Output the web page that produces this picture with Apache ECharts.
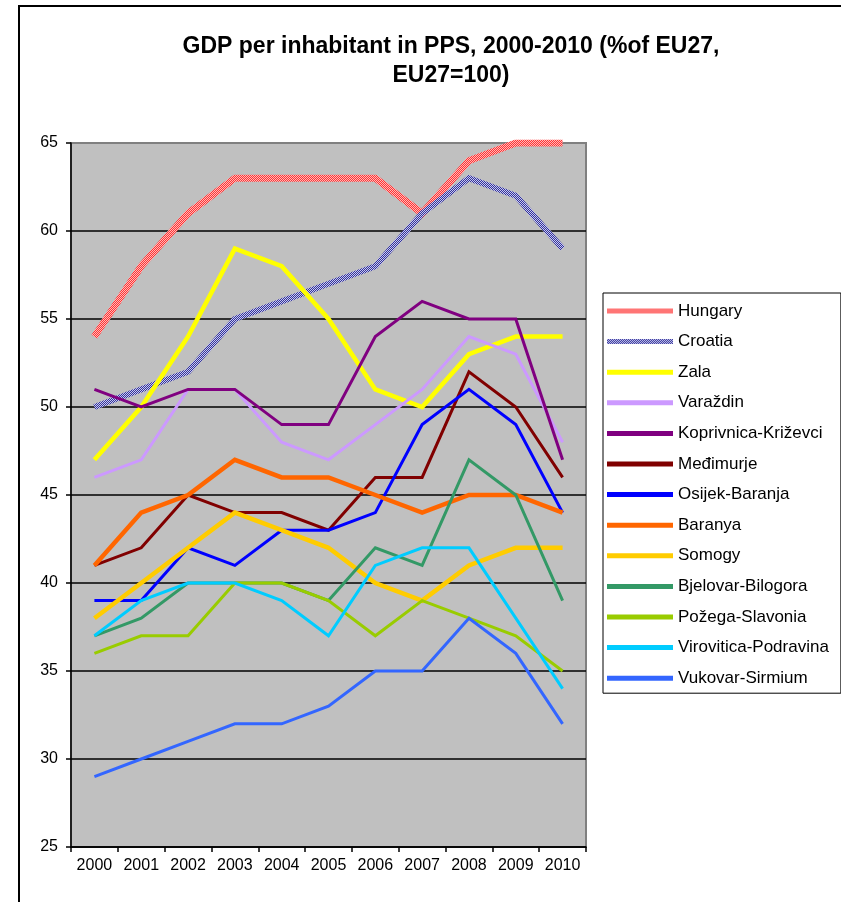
<!DOCTYPE html>
<html>
<head>
<meta charset="utf-8">
<script src="https://cdn.jsdelivr.net/npm/echarts@6/dist/echarts.min.js"></script>
<style>html,body{margin:0;padding:0;background:#fff}#c{width:841px;height:902px}</style>
</head>
<body>
<div id="c"></div>
<script>
var years = ['2000','2001','2002','2003','2004','2005','2006','2007','2008','2009','2010'];
var hungary    = [54, 58, 61, 63, 63, 63, 63, 61, 64, 65, 65];
var croatia    = [50, 51, 52, 55, 56, 57, 58, 61, 63, 62, 59];
var zala       = [47, 50, 54, 59, 58, 55, 51, 50, 53, 54, 54];
var varazdin   = [46, 47, 51, 51, 48, 47, 49, 51, 54, 53, 48];
var koprivnica = [51, 50, 51, 51, 49, 49, 54, 56, 55, 55, 47];
var medimurje  = [41, 42, 45, 44, 44, 43, 46, 46, 52, 50, 46];
var osijek     = [39, 39, 42, 41, 43, 43, 44, 49, 51, 49, 44];
var baranya    = [41, 44, 45, 47, 46, 46, 45, 44, 45, 45, 44];
var somogy     = [38, 40, 42, 44, 43, 42, 40, 39, 41, 42, 42];
var bjelovar   = [37, 38, 40, 40, 40, 39, 42, 41, 47, 45, 39];
var pozega     = [36, 37, 37, 40, 40, 39, 37, 39, 38, 37, 35];
var virovitica = [37, 39, 40, 40, 39, 37, 41, 42, 42, 38, 34];
var vukovar    = [29, 30, 31, 32, 32, 33, 35, 35, 38, 36, 32];
var yTicks = [25, 30, 35, 40, 45, 50, 55, 60, 65];

function pattern(a, b) {
  var cv = document.createElement('canvas');
  cv.width = 2; cv.height = 2;
  var ctx = cv.getContext('2d');
  ctx.fillStyle = a; ctx.fillRect(0, 0, 2, 2);
  ctx.fillStyle = b; ctx.fillRect(0, 0, 1, 1); ctx.fillRect(1, 1, 1, 1);
  return { image: cv, repeat: 'repeat' };
}
var hunPat = pattern('#FF3333', '#FFB8B8');
var croPat = pattern('#333399', '#C8C8F0');

var defs = [
  ['Hungary', hungary, hunPat, 7],
  ['Croatia', croatia, croPat, 6],
  ['Zala', zala, '#FFFF00', 4.5],
  ['Varaždin', varazdin, '#CC99FF', 3],
  ['Koprivnica-Križevci', koprivnica, '#800080', 3],
  ['Međimurje', medimurje, '#800000', 3],
  ['Osijek-Baranja', osijek, '#0000FF', 3],
  ['Baranya', baranya, '#FF6600', 4.5],
  ['Somogy', somogy, '#FFCC00', 4.5],
  ['Bjelovar-Bilogora', bjelovar, '#339966', 3],
  ['Požega-Slavonia', pozega, '#99CC00', 3],
  ['Virovitica-Podravina', virovitica, '#00CCFF', 3],
  ['Vukovar-Sirmium', vukovar, '#3366FF', 3]
];

var font = 'Liberation Sans, Arial, sans-serif';
var series = defs.map(function (d) {
  return {
    name: d[0], type: 'line', data: d[1],
    symbol: 'none', animation: false,
    lineStyle: { color: d[2], width: d[3], join: 'miter' },
    itemStyle: { color: d[2] }
  };
});

var splitColors = yTicks.map(function (v) { return v === 65 ? '#808080' : '#000000'; });

var chart = echarts.init(document.getElementById('c'), null, { renderer: 'canvas' });
chart.setOption({
  backgroundColor: '#ffffff',
  animation: false,
  title: {
    text: 'GDP per inhabitant in PPS, 2000-2010 (%of EU27,\nEU27=100)',
    left: 446, top: 27, textAlign: 'center',
    textStyle: { fontFamily: font, fontSize: 23, fontWeight: 'bold', color: '#000', lineHeight: 29 }
  },
  graphic: [{
    type: 'rect', shape: { x: 19, y: 6, width: 900, height: 1000 },
    style: { fill: 'none', stroke: '#000', lineWidth: 2 }, silent: true, z: 100
  }],
  legend: {
    orient: 'vertical', left: 603, top: 293,
    backgroundColor: '#fff', borderColor: '#000', borderWidth: 1,
    padding: [9, 12, 6, 4],
    itemWidth: 66, itemHeight: 5, itemGap: 12.6,
    icon: 'rect',
    textStyle: { fontFamily: font, fontSize: 17, color: '#000', lineHeight: 18 },
    data: defs.map(function (d) { return d[0]; })
  },
  grid: {
    left: 71, top: 143, right: 255, bottom: 55,
    show: true, backgroundColor: '#C0C0C0', borderColor: '#808080', borderWidth: 2
  },
  xAxis: {
    type: 'category', data: years, boundaryGap: true,
    axisLine: { lineStyle: { color: '#000', width: 1.5 } },
    axisTick: { show: true, length: 5, inside: false, lineStyle: { color: '#000', width: 1.5 } },
    axisLabel: { fontFamily: font, fontSize: 16, color: '#000', margin: 11 }
  },
  yAxis: {
    type: 'value', min: 25, max: 65, interval: 5,
    axisLine: { show: true, lineStyle: { color: '#000', width: 1.5 } },
    axisTick: { show: true, length: 5, lineStyle: { color: '#000', width: 1.5 } },
    axisLabel: { fontFamily: font, fontSize: 16, color: '#000', margin: 13 },
    splitLine: { show: true, lineStyle: { color: splitColors, width: 1.5 } }
  },
  series: series
});
</script>
</body>
</html>
